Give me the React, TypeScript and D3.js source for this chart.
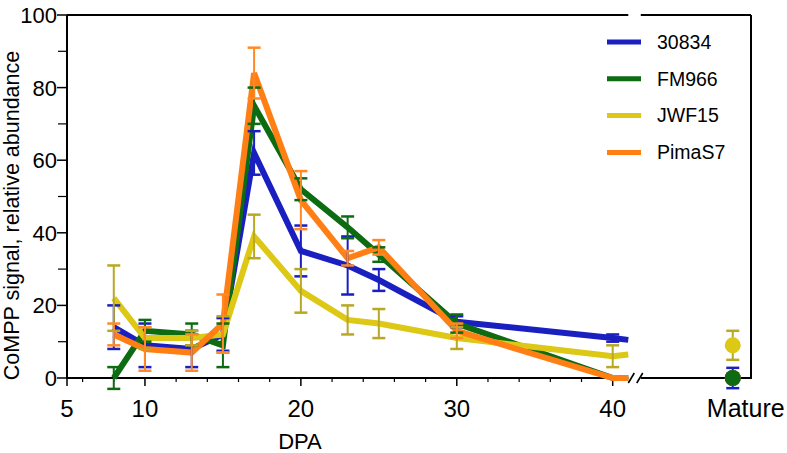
import React from "react";
import * as d3 from "d3";

const DPA = [8, 10, 13, 15, 17, 20, 23, 25, 30, 40, 41];
const HAS_BAR = [true, true, true, true, true, true, true, true, true, true, false];

const S30834 = [14, 9, 8, 12, 62, 35, 31, 27, 15.5, 11, 10.5];
const S30834_ERR = [6, 6, 5, 4.5, 6, 7, 8, 3, 1.5, 1, 0];
const FM966 = [0, 13, 12, 9, 75, 52, 41.5, 34, 15, 0, 0];
const FM966_ERR = [3, 3, 3, 6, 5, 3, 3, 2, 2.5, 0, 0];
const JWF15 = [22, 11, 11, 12, 39, 24, 16, 15, 11, 6, 6.5];
const JWF15_ERR = [9, 3, 2, 5, 6, 6, 4, 4, 3, 3, 0];
const PIMAS7 = [12, 8, 7, 15, 84, 49, 33, 36, 13, 0, 0];
const PIMAS7_ERR = [3, 6, 5, 8, 7, 8, 2, 2, 2, 0, 0];

const MATURE_VALUES = [0, 0, 9, 0];
const MATURE_ERR = [2.8, 0, 4, 0];
const MATURE_POS = 47.7;

const SERIES_NAMES = ["30834", "FM966", "JWF15", "PimaS7"];
const SERIES_COLORS = ["#1a1fc0", "#0d6b12", "#dcc815", "#ff7f15"];
const BAR_COLORS = ["#1a1fc0", "#0d6b12", "#b8a824", "#ff8a25"];

const Y_MAJOR = [0, 20, 40, 60, 80, 100];
const Y_MINOR = [10, 30, 50, 70, 90];
const X_MAJOR = [5, 10, 20, 30, 40];
const X_MINOR = [6, 8, 12, 14, 16, 18, 22, 24, 26, 28, 32, 34, 36, 38];

const FONT = "'Liberation Sans', Arial, Helvetica, sans-serif";

export default function App() {
  const W = 787, H = 453;
  const left = 67, right = 751, top = 15, bottom = 378;
  const x = d3.scaleLinear().domain([5, 40]).range([left, 612.7]);
  const y = d3.scaleLinear().domain([0, 100]).range([bottom, top]);
  const values = [S30834, FM966, JWF15, PIMAS7];
  const errs = [S30834_ERR, FM966_ERR, JWF15_ERR, PIMAS7_ERR];
  const line = d3.line<number>().x((_, i) => x(DPA[i])).y((v) => y(v));
  const gapL = x(41);
  const gapR = x(41.8);
  const mx = x(MATURE_POS);
  const cap = 6.5;

  return (
    <svg width={W} height={H} style={{ position: "absolute", left: 0, top: 0, background: "#fff" }} fontFamily={FONT}>
      {/* frame */}
      <line x1={left} x2={left} y1={top} y2={bottom} stroke="#000" strokeWidth={2} />
      <line x1={left} x2={gapL} y1={top} y2={top} stroke="#000" strokeWidth={2} />
      <line x1={gapR} x2={right} y1={top} y2={top} stroke="#000" strokeWidth={2} />
      <line x1={right} x2={right} y1={top} y2={bottom + 1} stroke="#000" strokeWidth={2} />
      <line x1={left - 1} x2={gapL} y1={bottom} y2={bottom} stroke="#000" strokeWidth={2} />
      <line x1={gapR} x2={right + 1} y1={bottom} y2={bottom} stroke="#000" strokeWidth={2} />
      {[gapL + 3, gapR - 1].map((bx, i) => (
        <line key={i} x1={bx - 3} x2={bx + 3} y1={bottom + 5} y2={bottom - 5} stroke="#000" strokeWidth={1.6} />
      ))}

      {/* y ticks */}
      {Y_MAJOR.map((t) => (
        <g key={"ym" + t}>
          <line x1={left - 10} x2={left} y1={y(t)} y2={y(t)} stroke="#000" strokeWidth={1.5} />
          <text x={57} y={y(t)} dy="0.36em" textAnchor="end" fontSize={22}>{t}</text>
        </g>
      ))}
      {Y_MINOR.map((t) => (
        <line key={"yn" + t} x1={left - 9} x2={left} y1={y(t)} y2={y(t)} stroke="#000" strokeWidth={1.2} />
      ))}

      {/* x ticks */}
      {X_MAJOR.map((t) => (
        <g key={"xm" + t}>
          <line x1={x(t)} x2={x(t)} y1={bottom} y2={bottom + 8} stroke="#000" strokeWidth={1.5} />
          <text x={x(t)} y={417} textAnchor="middle" fontSize={24}>{t}</text>
        </g>
      ))}
      {X_MINOR.map((t) => (
        <line key={"xn" + t} x1={x(t)} x2={x(t)} y1={bottom} y2={bottom + 4} stroke="#000" strokeWidth={1.2} />
      ))}
      <text x={mx + 13} y={417} textAnchor="middle" fontSize={25}>Mature</text>

      {/* axis titles */}
      <text x={300} y={449} textAnchor="middle" fontSize={22}>DPA</text>
      <text transform={`translate(19,${(top + 400) / 2 + 8}) rotate(-90)`} textAnchor="middle" fontSize={21.5}>
        CoMPP signal, relative abundance
      </text>

      {/* lines */}
      {values.map((vals, s) => (
        <path key={"l" + s} d={line(vals) || ""} fill="none" stroke={SERIES_COLORS[s]} strokeWidth={6} strokeLinejoin="miter" />
      ))}

      {/* error bars */}
      {values.map((vals, s) => (
        <g key={"e" + s} stroke={BAR_COLORS[s]} strokeWidth={2}>
          {vals.map((v, i) =>
            HAS_BAR[i] && errs[s][i] > 0 ? (
              <g key={i}>
                <line x1={x(DPA[i])} x2={x(DPA[i])} y1={y(v - errs[s][i])} y2={y(v + errs[s][i])} />
                <line x1={x(DPA[i]) - cap} x2={x(DPA[i]) + cap} y1={y(v + errs[s][i])} y2={y(v + errs[s][i])} strokeWidth={2.5} />
                <line x1={x(DPA[i]) - cap} x2={x(DPA[i]) + cap} y1={y(v - errs[s][i])} y2={y(v - errs[s][i])} strokeWidth={2.5} />
              </g>
            ) : null
          )}
        </g>
      ))}

      {/* mature points */}
      {[0, 3, 2, 1].map((s) => (
        <g key={"m" + s}>
          {MATURE_ERR[s] > 0 && (
            <g stroke={BAR_COLORS[s]} strokeWidth={2}>
              <line x1={mx} x2={mx} y1={y(MATURE_VALUES[s] - MATURE_ERR[s])} y2={y(MATURE_VALUES[s] + MATURE_ERR[s])} />
              <line x1={mx - cap} x2={mx + cap} y1={y(MATURE_VALUES[s] + MATURE_ERR[s])} y2={y(MATURE_VALUES[s] + MATURE_ERR[s])} strokeWidth={2.5} />
              <line x1={mx - cap} x2={mx + cap} y1={y(MATURE_VALUES[s] - MATURE_ERR[s])} y2={y(MATURE_VALUES[s] - MATURE_ERR[s])} strokeWidth={2.5} />
            </g>
          )}
          <circle cx={mx} cy={y(MATURE_VALUES[s])} r={8} fill={SERIES_COLORS[s]} />
        </g>
      ))}

      {/* legend */}
      {SERIES_NAMES.map((name, i) => {
        const ly = 42 + i * 36.8;
        return (
          <g key={"lg" + i}>
            <line x1={607} x2={641} y1={ly} y2={ly} stroke={SERIES_COLORS[i]} strokeWidth={5} />
            <text x={657} y={ly} dy="0.35em" fontSize={19.5}>{name}</text>
          </g>
        );
      })}
    </svg>
  );
}
